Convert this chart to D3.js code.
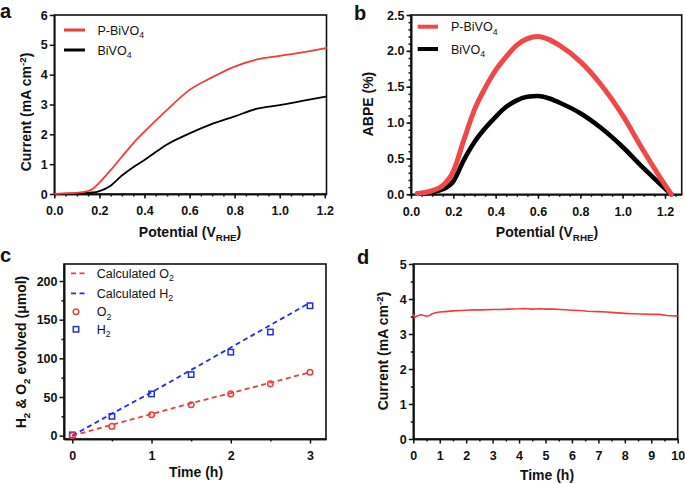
<!DOCTYPE html>
<html>
<head>
<meta charset="utf-8">
<script src="https://cdn.jsdelivr.net/npm/d3@7"></script>
<style>
  body { margin: 0; background: #fff; }
  svg { font-family: "Liberation Sans", Arial, Helvetica, sans-serif; }
  .tick text { font-weight: bold; font-size: 12.5px; fill: #111; }
  .tick line { stroke: #111; stroke-width: 1.5; }
  .domain { stroke: #111; stroke-width: 1.6; }
</style>
</head>
<body>
<script>
// panel a: LSV curves
var potentialA = [0, 0.05, 0.1, 0.15, 0.17, 0.2, 0.25, 0.3, 0.35, 0.4, 0.5, 0.6, 0.7, 0.8, 0.9, 1.0, 1.1, 1.21];
var currentP = [0, 0.02, 0.04, 0.1, 0.17, 0.38, 0.8, 1.25, 1.7, 2.09, 2.82, 3.49, 3.91, 4.27, 4.51, 4.63, 4.75, 4.9];
var currentB = [0, 0.01, 0.02, 0.04, 0.05, 0.1, 0.28, 0.62, 0.9, 1.14, 1.66, 2.03, 2.35, 2.6, 2.86, 2.98, 3.12, 3.27];

// panel b: ABPE
var potentialB = [0.03, 0.1, 0.15, 0.2, 0.25, 0.3, 0.35, 0.4, 0.45, 0.5, 0.55, 0.6, 0.65, 0.7, 0.8, 0.9, 1.0, 1.1, 1.2, 1.23];
var abpeP = [0.01, 0.05, 0.12, 0.32, 0.76, 1.18, 1.48, 1.73, 1.92, 2.08, 2.17, 2.2, 2.16, 2.08, 1.85, 1.52, 1.1, 0.6, 0.13, 0];
var abpeB = [0.01, 0.03, 0.07, 0.18, 0.48, 0.73, 0.92, 1.08, 1.22, 1.31, 1.36, 1.37, 1.34, 1.28, 1.13, 0.92, 0.66, 0.36, 0.08, 0];

// panel c: gas evolution
var timeC = [0, 0.5, 1, 1.5, 2, 2.5, 3];
var o2Measured = [0, 12, 27, 40, 54, 67, 82];
var h2Measured = [1, 25, 54, 79, 108, 134, 168];
var o2Calculated = [0, 14, 28, 42, 55, 68.5, 82];
var h2Calculated = [0, 28.5, 56, 85, 114, 143, 172];

// panel d: stability
var timeD = [0, 0.05, 0.1, 0.2, 0.3, 0.4, 0.5, 0.6, 0.7, 0.8, 1.0, 1.2, 1.5, 1.8, 2.0, 2.3, 2.6, 3.0, 3.3, 3.6, 4.0, 4.2, 4.5, 4.8, 5.0, 5.3, 5.6, 6.0, 6.3, 6.6, 7.0, 7.3, 7.6, 8.0, 8.3, 8.6, 9.0, 9.3, 9.6, 10.0];
var currentD = [3.56, 3.47, 3.5, 3.53, 3.55, 3.53, 3.51, 3.52, 3.57, 3.6, 3.63, 3.64, 3.66, 3.67, 3.68, 3.69, 3.69, 3.7, 3.7, 3.71, 3.72, 3.73, 3.71, 3.72, 3.71, 3.71, 3.7, 3.68, 3.67, 3.65, 3.64, 3.63, 3.61, 3.59, 3.58, 3.57, 3.56, 3.56, 3.53, 3.51];

// ticks
var ticksA_x = [0, 0.2, 0.4, 0.6, 0.8, 1.0, 1.2];
var ticksA_y = [0, 1, 2, 3, 4, 5, 6];
var ticksB_y = [0, 0.5, 1.0, 1.5, 2.0, 2.5];
var ticksC_x = [0, 1, 2, 3];
var ticksC_y = [0, 50, 100, 150, 200];
var ticksD_x = [0, 1, 2, 3, 4, 5, 6, 7, 8, 9, 10];
var ticksD_y = [0, 1, 2, 3, 4, 5];

var RED = "#f23c3c", RED_B = "#f04848", BLUE = "#1f2fe6", BLACK = "#000";

var svg = d3.select("body").append("svg").attr("width", 685).attr("height", 484);

function range(a, b, s) {
    var out = [];
    for (var v = a; v <= b + 1e-9; v += s) out.push(+v.toFixed(4));
    return out;
}

function makePanel(opt) {
    var g = svg.append("g");
    var x = d3.scaleLinear().domain(opt.xDomain).range([opt.left, opt.right]);
    var y = d3.scaleLinear().domain(opt.yDomain).range([opt.bottom, opt.top]);

    g.append("rect")
        .attr("x", opt.left).attr("y", opt.top)
        .attr("width", opt.right - opt.left).attr("height", opt.bottom - opt.top)
        .attr("fill", "none").attr("stroke", "#111").attr("stroke-width", 1.6);

    if (opt.xMinor)
        g.append("g").attr("transform", "translate(0," + opt.bottom + ")")
            .call(d3.axisBottom(x).tickValues(opt.xMinor).tickSize(2.5).tickSizeOuter(0).tickFormat(""));
    if (opt.yMinor)
        g.append("g").attr("transform", "translate(" + opt.left + ",0)")
            .call(d3.axisLeft(y).tickValues(opt.yMinor).tickSize(2.5).tickSizeOuter(0).tickFormat(""));

    g.append("g").attr("transform", "translate(0," + opt.bottom + ")")
        .call(d3.axisBottom(x).tickValues(opt.xTicks).tickSize(4.5).tickSizeOuter(0)
            .tickPadding(8).tickFormat(opt.xFormat));
    g.append("g").attr("transform", "translate(" + opt.left + ",0)")
        .call(d3.axisLeft(y).tickValues(opt.yTicks).tickSize(4.5).tickSizeOuter(0)
            .tickPadding(2).tickFormat(opt.yFormat));

    return {g: g, x: x, y: y};
}

function addText(g, x, y, parts, opts) {
    opts = opts || {};
    var t = g.append("text").attr("x", x).attr("y", y)
        .attr("font-size", opts.size || 14)
        .attr("font-weight", opts.weight || "bold")
        .attr("text-anchor", opts.anchor || "start")
        .attr("fill", "#111");
    if (opts.rotate) t.attr("transform", "rotate(-90," + x + "," + y + ")");
    var shift = 0;
    parts.forEach(function(p) {
        var s = t.append("tspan").text(p.t);
        var want = p.sub ? 3.5 : (p.sup ? -5 : 0);
        if (want !== shift) { s.attr("dy", want - shift); shift = want; }
        if (p.sub || p.sup) s.attr("font-size", (opts.size || 14) * 0.7);
    });
    return t;
}

function lineGen(p) {
    return d3.line().x(function(d) { return p.x(d[0]); }).y(function(d) { return p.y(d[1]); });
}

// ---------- panel a ----------
var pa = makePanel({
    left: 54.3, right: 326.5, top: 15, bottom: 194,
    xDomain: [0, 1.2075], yDomain: [0, 6],
    xTicks: ticksA_x, yTicks: ticksA_y, xMinor: range(0, 1.2, 0.05),
    xFormat: d3.format(".1f"), yFormat: d3.format("d")
});
pa.g.append("path").datum(d3.zip(potentialA, currentB))
    .attr("d", lineGen(pa).curve(d3.curveMonotoneX))
    .attr("fill", "none").attr("stroke", BLACK).attr("stroke-width", 1.8);
pa.g.append("path").datum(d3.zip(potentialA, currentP))
    .attr("d", lineGen(pa).curve(d3.curveMonotoneX))
    .attr("fill", "none").attr("stroke", RED).attr("stroke-width", 1.8);
[["P-BiVO", RED, 30], ["BiVO", BLACK, 50]].forEach(function(l) {
    pa.g.append("line").attr("x1", 64).attr("x2", 85).attr("y1", l[2]).attr("y2", l[2])
        .attr("stroke", l[1]).attr("stroke-width", 3);
    addText(pa.g, 97.5, l[2] + 4.5, [{t: l[0]}, {t: "4", sub: true}], {size: 12.5, weight: "normal"});
});
addText(svg, 0, 18, [{t: "a"}], {size: 20});
addText(svg, 190, 237, [{t: "Potential (V"}, {t: "RHE", sub: true}, {t: ")"}], {anchor: "middle"});
addText(svg, 31, 112, [{t: "Current (mA cm"}, {t: "-2", sup: true}, {t: ")"}], {anchor: "middle", rotate: true});

// ---------- panel b ----------
var pb = makePanel({
    left: 411, right: 681.7, top: 15, bottom: 194.3,
    xDomain: [0, 1.279], yDomain: [0, 2.5],
    xTicks: ticksA_x, yTicks: ticksB_y, xMinor: range(0, 1.25, 0.05), yMinor: range(0, 2.5, 0.1),
    xFormat: d3.format(".1f"), yFormat: d3.format(".1f")
});
pb.g.append("path").datum(d3.zip(potentialB, abpeB))
    .attr("d", lineGen(pb).curve(d3.curveMonotoneX))
    .attr("fill", "none").attr("stroke", BLACK).attr("stroke-width", 4.6).attr("stroke-linecap", "round");
pb.g.append("path").datum(d3.zip(potentialB, abpeP))
    .attr("d", lineGen(pb).curve(d3.curveMonotoneX))
    .attr("fill", "none").attr("stroke", RED_B).attr("stroke-width", 5).attr("stroke-linecap", "round");
[["P-BiVO", RED_B, 26.7], ["BiVO", BLACK, 49]].forEach(function(l) {
    pb.g.append("line").attr("x1", 417.7).attr("x2", 438).attr("y1", l[2]).attr("y2", l[2])
        .attr("stroke", l[1]).attr("stroke-width", 4);
    addText(pb.g, 451, l[2] + 4.5, [{t: l[0]}, {t: "4", sub: true}], {size: 12.5, weight: "normal"});
});
addText(svg, 354, 20, [{t: "b"}], {size: 20});
addText(svg, 547, 237, [{t: "Potential (V"}, {t: "RHE", sub: true}, {t: ")"}], {anchor: "middle"});
addText(svg, 373, 104, [{t: "ABPE (%)"}], {anchor: "middle", rotate: true});

// ---------- panel c ----------
var pc = makePanel({
    left: 64, right: 326, top: 264, bottom: 439,
    xDomain: [-0.105, 3.202], yDomain: [-4.3, 222],
    xTicks: ticksC_x, yTicks: ticksC_y, xMinor: [0.5, 1.5, 2.5], yMinor: [25, 75, 125, 175],
    xFormat: d3.format("d"), yFormat: d3.format("d")
});
pc.g.append("path").datum(d3.zip(timeC, o2Calculated))
    .attr("d", lineGen(pc)).attr("fill", "none").attr("stroke", RED)
    .attr("stroke-width", 1.8).attr("stroke-dasharray", "5,3.5");
pc.g.append("path").datum(d3.zip(timeC, h2Calculated))
    .attr("d", lineGen(pc)).attr("fill", "none").attr("stroke", BLUE)
    .attr("stroke-width", 1.8).attr("stroke-dasharray", "5,3.5");
pc.g.selectAll("rect.h2").data(d3.zip(timeC, h2Measured)).enter().append("rect")
    .attr("class", "h2")
    .attr("x", function(d) { return pc.x(d[0]) - 2.7; })
    .attr("y", function(d) { return pc.y(d[1]) - 2.7; })
    .attr("width", 5.4).attr("height", 5.4)
    .attr("fill", "none").attr("stroke", BLUE).attr("stroke-width", 1.5);
pc.g.selectAll("circle.o2").data(d3.zip(timeC, o2Measured)).enter().append("circle")
    .attr("class", "o2")
    .attr("cx", function(d) { return pc.x(d[0]); })
    .attr("cy", function(d) { return pc.y(d[1]); })
    .attr("r", 2.8)
    .attr("fill", "none").attr("stroke", RED).attr("stroke-width", 1.5);
// legend c
[["Calculated O", RED, 273.3], ["Calculated H", BLUE, 293.3]].forEach(function(l) {
    pc.g.append("line").attr("x1", 71).attr("x2", 86).attr("y1", l[2]).attr("y2", l[2])
        .attr("stroke", l[1]).attr("stroke-width", 1.8).attr("stroke-dasharray", "5,3.5");
    addText(pc.g, 96.7, l[2] + 4.5, [{t: l[0]}, {t: "2", sub: true}], {size: 12.5, weight: "normal"});
});
pc.g.append("circle").attr("cx", 76).attr("cy", 311.7).attr("r", 2.8)
    .attr("fill", "none").attr("stroke", RED).attr("stroke-width", 1.5);
addText(pc.g, 96.7, 316.2, [{t: "O"}, {t: "2", sub: true}], {size: 12.5, weight: "normal"});
pc.g.append("rect").attr("x", 73.3).attr("y", 326.6).attr("width", 5.4).attr("height", 5.4)
    .attr("fill", "none").attr("stroke", BLUE).attr("stroke-width", 1.5);
addText(pc.g, 96.7, 333.8, [{t: "H"}, {t: "2", sub: true}], {size: 12.5, weight: "normal"});
addText(svg, 0, 262, [{t: "c"}], {size: 20});
addText(svg, 196, 477, [{t: "Time (h)"}], {anchor: "middle"});
addText(svg, 26, 352, [{t: "H"}, {t: "2", sub: true}, {t: " & O"}, {t: "2", sub: true}, {t: " evolved (\u03bcmol)"}],
    {anchor: "middle", rotate: true});

// ---------- panel d ----------
var pd = makePanel({
    left: 413.3, right: 677.7, top: 264, bottom: 439,
    xDomain: [0, 10], yDomain: [0, 5],
    xTicks: ticksD_x, yTicks: ticksD_y, xMinor: range(0.5, 9.5, 1), yMinor: range(0.5, 4.5, 1),
    xFormat: d3.format("d"), yFormat: d3.format("d")
});
pd.g.append("path").datum(d3.zip(timeD, currentD))
    .attr("d", lineGen(pd)).attr("fill", "none").attr("stroke", RED).attr("stroke-width", 1.6);
addText(svg, 357, 264, [{t: "d"}], {size: 20});
addText(svg, 547, 480, [{t: "Time (h)"}], {anchor: "middle"});
addText(svg, 388, 351, [{t: "Current (mA cm"}, {t: "-2", sup: true}, {t: ")"}], {anchor: "middle", rotate: true});
</script>
</body>
</html>
